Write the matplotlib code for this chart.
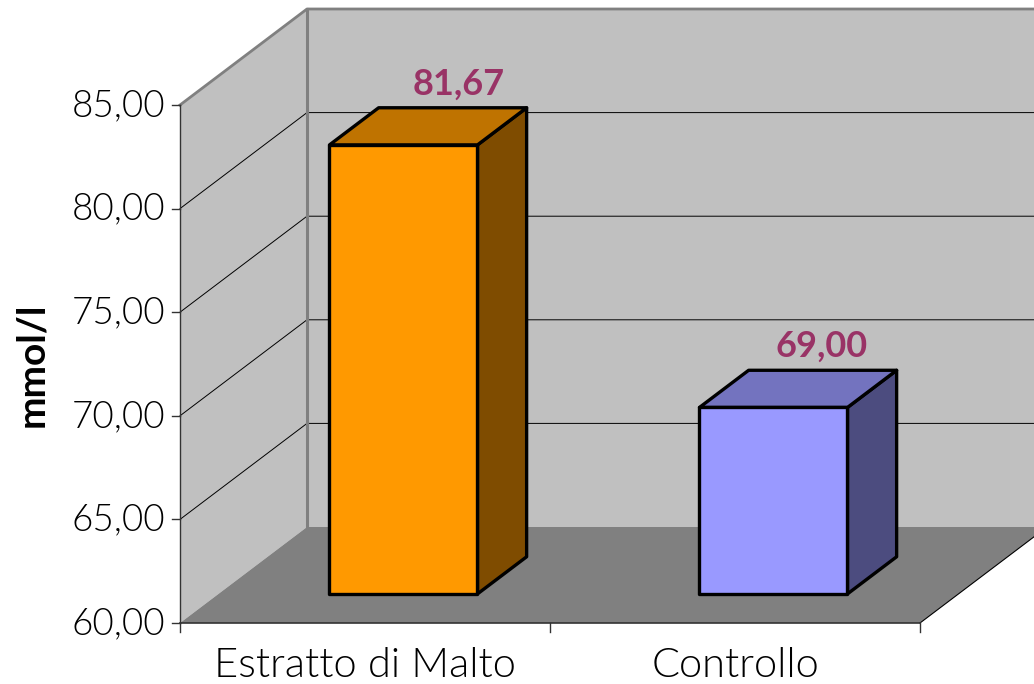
import matplotlib
matplotlib.use("Agg")
import matplotlib.pyplot as plt
from matplotlib.patches import Polygon

plt.rcParams['font.family'] = ['Lato', 'DejaVu Sans']

# Chart data
categories = ["Estratto di Malto", "Controllo"]
values = [81.67, 69.00]
y_ticks = [60, 65, 70, 75, 80, 85]
y_axis_label = "mmol/l"

# Face colours for each bar: front, top, side
front_colors = ["#FF9900", "#9999FF"]
top_colors = ["#BF7300", "#7373BF"]
side_colors = ["#7F4C00", "#4C4C7F"]

WALL = "#C0C0C0"
FLOOR = "#808080"
EDGE = "#808080"
LABEL_COLOR = "#993366"

W, H = 1034, 684
fig = plt.figure(figsize=(W / 100, H / 100), dpi=100, facecolor="white")
ax = fig.add_axes([0, 0, 1, 1])

# Axes scale: one category is 370 px wide, one y unit is 20.72 px tall
CAT_PX = 370
UNIT_PX = 20.72
ax.set_xlim(-180 / CAT_PX, (W - 180) / CAT_PX)
ax.set_ylim(60 - (H - 623) / UNIT_PX, 60 + 623 / UNIT_PX)
ax.axis("off")

# Oblique depth vector for the full depth of the chart box
DEPTH_X = 127 / CAT_PX
DEPTH_Y = 96 / UNIT_PX


def proj(x, y, d=0.0):
    # d goes from 0 (front plane) to 1 (back wall)
    return (x + d * DEPTH_X, y + d * DEPTH_Y)


y_min, y_max = y_ticks[0], y_ticks[-1]
n = len(categories)

# Walls and floor
ax.add_patch(Polygon([proj(0, y_min), proj(0, y_max), proj(0, y_max, 1), proj(0, y_min, 1)],
                     facecolor=WALL, edgecolor="none", zorder=1))
ax.add_patch(Polygon([proj(0, y_min, 1), proj(0, y_max, 1), proj(n, y_max, 1), proj(n, y_min, 1)],
                     facecolor=WALL, edgecolor="none", zorder=1))
ax.add_patch(Polygon([proj(0, y_min), proj(n, y_min), proj(n, y_min, 1), proj(0, y_min, 1)],
                     facecolor=FLOOR, edgecolor="none", zorder=1))

# Gridlines across the side wall and the back wall
for t in y_ticks[1:-1]:
    xs, ys = zip(proj(0, t), proj(0, t, 1), proj(n, t, 1))
    ax.plot(xs, ys, color="black", lw=0.7, zorder=2)

# Wall borders
xs, ys = zip(proj(0, y_max), proj(0, y_max, 1), proj(n, y_max, 1))
ax.plot(xs, ys, color=EDGE, lw=2, zorder=3)
xs, ys = zip(proj(0, y_min, 1), proj(0, y_max, 1))
ax.plot(xs, ys, color=EDGE, lw=2.2, zorder=3)

# Front edge of the floor and its right side
xs, ys = zip(proj(n, y_min), proj(n, y_min, 1))
ax.plot(xs, ys, color="black", lw=0.8, zorder=3)
ax.plot([0, 0], [y_min, y_max], color="#333333", lw=1, zorder=3)
ax.plot([0, n], [y_min, y_min], color="#333333", lw=1.2, zorder=3)

# Axis ticks
for t in y_ticks:
    ax.plot([-8 / CAT_PX, 0], [t, t], color="#333333", lw=1, zorder=3)
    ax.text(-15 / CAT_PX, t - 0.05, f"{t:.2f}".replace(".", ","), ha="right", va="center",
            fontsize=26.5, fontweight=300, color="black", zorder=5)
for i in range(n + 1):
    ax.plot([i, i], [y_min, y_min - 9 / UNIT_PX], color="#333333", lw=1, zorder=3)

# Bars as three visible faces
BAR_W = 0.4
D0, D1 = 0.303, 0.69
label_dx = [0.15, 0.13]
for i, v in enumerate(values):
    x0 = i + 0.5 - BAR_W / 2
    x1 = i + 0.5 + BAR_W / 2
    style = dict(edgecolor="black", linewidth=2.4, joinstyle="round", zorder=4)
    ax.add_patch(Polygon([proj(x1, y_min, D0), proj(x1, v, D0), proj(x1, v, D1), proj(x1, y_min, D1)],
                         facecolor=side_colors[i], **style))
    ax.add_patch(Polygon([proj(x0, v, D0), proj(x1, v, D0), proj(x1, v, D1), proj(x0, v, D1)],
                         facecolor=top_colors[i], **style))
    ax.add_patch(Polygon([proj(x0, y_min, D0), proj(x1, y_min, D0), proj(x1, v, D0), proj(x0, v, D0)],
                         facecolor=front_colors[i], **style))
    lx, ly = proj(i + 0.5 + label_dx[i], v, D0)
    ax.text(lx, ly + 2.95, f"{v:.2f}".replace(".", ","), ha="center", va="center",
            fontsize=26, fontweight="bold", color=LABEL_COLOR, zorder=5)

# Category labels under the axis
for i, name in enumerate(categories):
    ax.text(i + 0.5, y_min - 43 / UNIT_PX, name, ha="center", va="center",
            fontsize=30, fontweight=300, color="black", zorder=5)

ax.text(-148 / CAT_PX, 60 + 258 / UNIT_PX, y_axis_label, rotation=90, ha="center", va="center",
        fontsize=28, fontweight="bold", color="black", zorder=5)

fig.savefig("out.png", dpi=100, facecolor="white")
